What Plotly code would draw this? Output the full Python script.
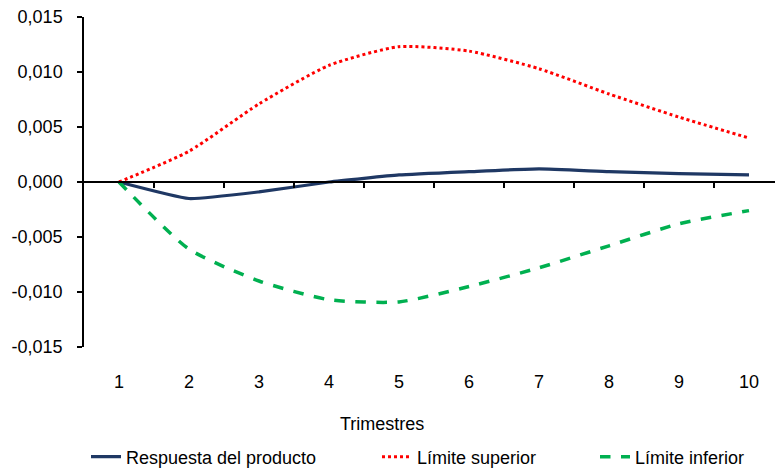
import plotly.graph_objects as go

trimestres = [1, 2, 3, 4, 5, 6, 7, 8, 9, 10]
respuesta = [0.0, -0.0015, -0.0009, 0.0, 0.00064, 0.00094, 0.0012, 0.00094, 0.00076, 0.00064]
limite_sup = [0.0, 0.0028, 0.0071, 0.0106, 0.0123, 0.0119, 0.0103, 0.0080, 0.0059, 0.0040]
limite_inf = [0.0, -0.0061, -0.0090, -0.0107, -0.0109, -0.0095, -0.0078, -0.0058, -0.0038, -0.0026]

y_tick_vals = [-0.015, -0.010, -0.005, 0.0, 0.005, 0.010, 0.015]
y_tick_text = ["-0,015", "-0,010", "-0,005", "0,000", "0,005", "0,010", "0,015"]
x_boundaries = [1.5, 2.5, 3.5, 4.5, 5.5, 6.5, 7.5, 8.5, 9.5]

FONT = "Liberation Sans, Arial, sans-serif"
W, H = 775, 468
ML, MT, MB, MR = 84, 17, 121, 0
plot_w = W - ML - MR
plot_h = H - MT - MB
x_range = [0.5, 0.5 + plot_w / 70.0]

fig = go.Figure()
fig.add_trace(go.Scatter(
    x=trimestres, y=respuesta, mode="lines", name="Respuesta del producto",
    line=dict(color="#1F3864", width=3.2, shape="spline", smoothing=0.4),
    legend="legend"))
fig.add_trace(go.Scatter(
    x=trimestres, y=limite_sup, mode="lines", name="Límite superior",
    line=dict(color="#FF0000", width=3, dash="dot", shape="spline", smoothing=0.6),
    legend="legend2"))
fig.add_trace(go.Scatter(
    x=trimestres, y=limite_inf, mode="lines", name="Límite inferior",
    line=dict(color="#00B050", width=3.5, dash="dash", shape="spline", smoothing=0.6),
    legend="legend3"))
# empty trace to register the zero-crossing axis
fig.add_trace(go.Scatter(x=[], y=[], xaxis="x2", showlegend=False, hoverinfo="skip"))

def px_to_paper_x(px):
    return (px - ML) / plot_w

def px_to_paper_y(py):
    return (H - MB - py) / plot_h

legend_common = dict(orientation="h", yanchor="middle", xanchor="left",
                     xref="paper", yref="paper",
                     font=dict(family=FONT, size=18, color="#000000"),
                     bgcolor="rgba(0,0,0,0)", borderwidth=0)

fig.update_layout(
    width=W, height=H,
    showlegend=True,
    margin=dict(l=ML, r=MR, t=MT, b=MB, pad=0, autoexpand=False),
    paper_bgcolor="white", plot_bgcolor="white",
    separators=",.",
    font=dict(family=FONT, size=18, color="#000000"),
    xaxis=dict(range=x_range, tickmode="array", tickvals=trimestres,
               ticktext=[str(t) for t in trimestres],
               showgrid=False, zeroline=False, showline=False, ticks="",
               ticklabelstandoff=22, automargin=False,
               tickfont=dict(family=FONT, size=18, color="#000000")),
    xaxis2=dict(range=x_range, overlaying="x", anchor="free", position=0.5,
                side="bottom", showgrid=False, zeroline=False, automargin=False,
                showline=True, linecolor="#000000", linewidth=1.5,
                ticks="outside", ticklen=5, tickwidth=1.5, tickcolor="#000000",
                tickmode="array", tickvals=x_boundaries, showticklabels=False),
    yaxis=dict(range=[-0.015, 0.015], tickmode="array", tickvals=y_tick_vals,
               ticktext=y_tick_text, showgrid=False, zeroline=False,
               showline=True, linecolor="#000000", linewidth=1.5,
               ticks="outside", ticklen=5, tickwidth=1.5, tickcolor="#000000",
               ticklabelstandoff=11, automargin=False,
               tickfont=dict(family=FONT, size=18, color="#000000")),
    legend=dict(x=px_to_paper_x(86), y=px_to_paper_y(457), **legend_common),
    legend2=dict(x=px_to_paper_x(377), y=px_to_paper_y(457), **legend_common),
    legend3=dict(x=px_to_paper_x(595), y=px_to_paper_y(457), **legend_common),
    annotations=[dict(text="Trimestres", x=px_to_paper_x(382), y=px_to_paper_y(424),
                      xref="paper", yref="paper", showarrow=False,
                      xanchor="center", yanchor="middle",
                      font=dict(family=FONT, size=18, color="#000000"))],
)

fig.write_html("out.html", config={"displayModeBar": False},
               post_script="document.body.style.margin='0px';")
